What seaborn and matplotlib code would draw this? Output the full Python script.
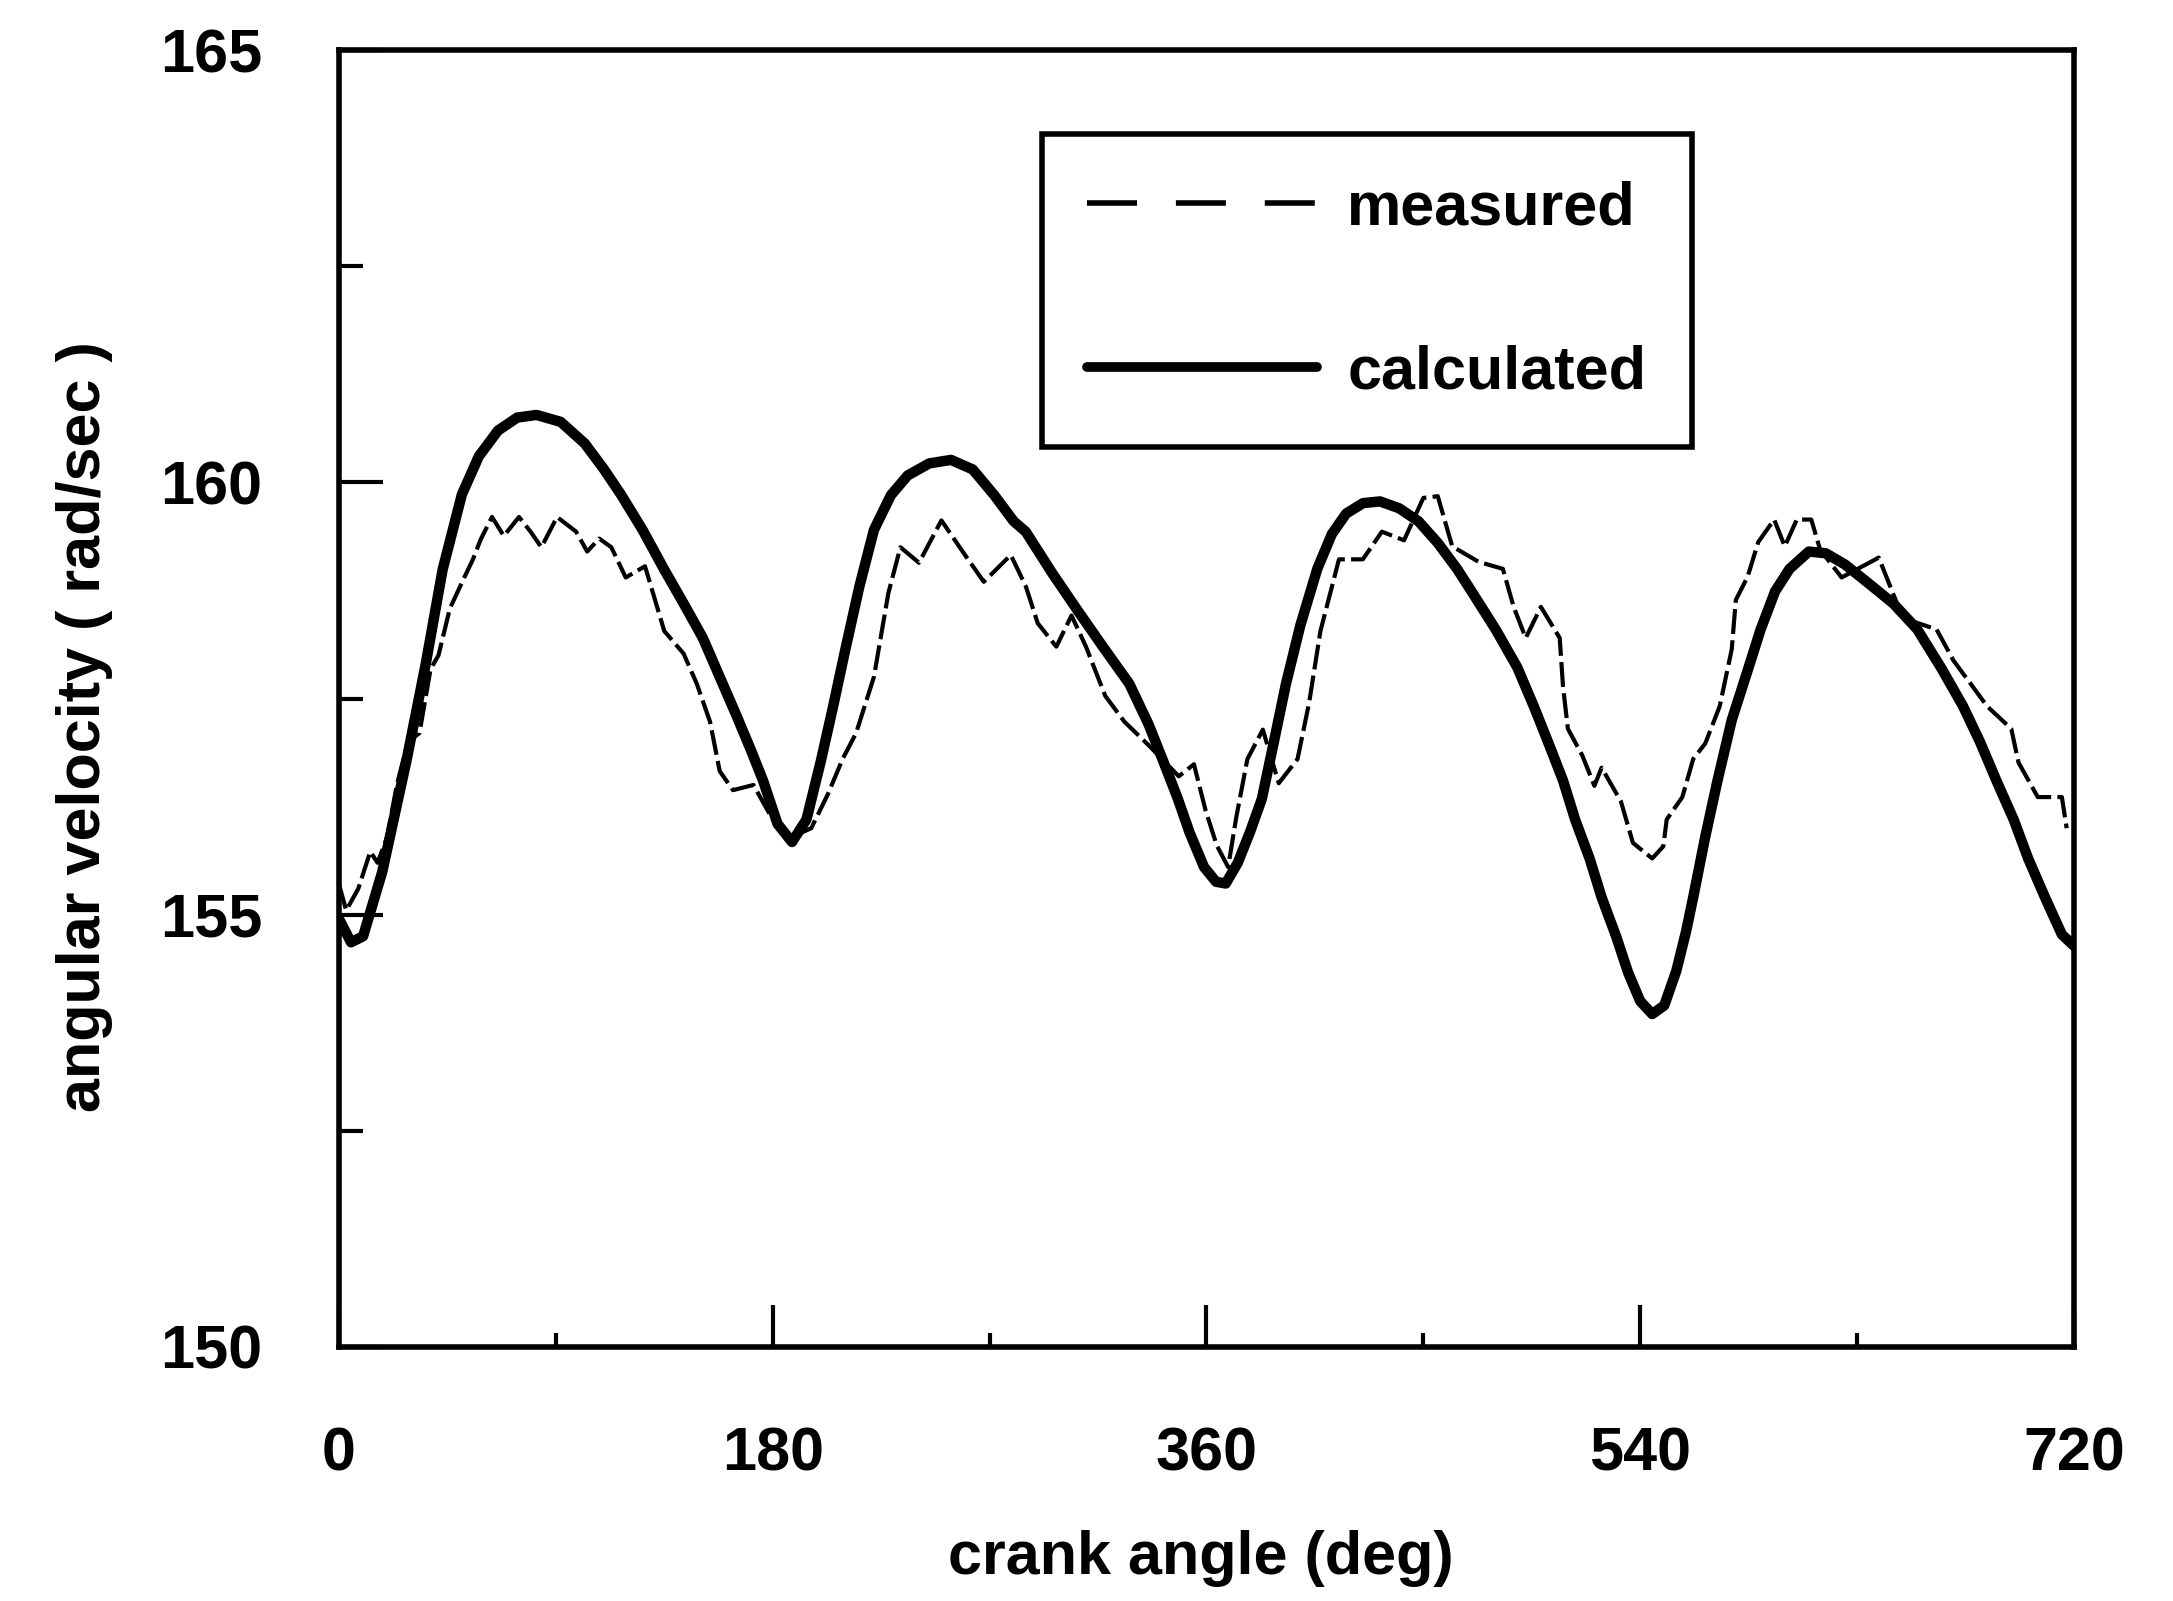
import matplotlib
matplotlib.use("Agg")
import matplotlib.pyplot as plt
from matplotlib.lines import Line2D
import pandas as pd
import seaborn as sns

# calculated angular velocity (solid, thick)
calc_angle = [0, 5, 10, 18, 28, 36, 43, 51, 58, 66, 74, 82, 92, 102, 110, 117,
              126, 135, 143, 151, 158, 165, 171, 176, 182, 188, 194, 200, 205,
              210, 216, 222, 229, 236, 245, 254, 263, 272, 280, 285, 296, 306,
              317, 328, 336, 342, 348, 353, 359, 364, 368, 373, 378, 383, 388,
              393, 399, 406, 412, 418, 425, 432, 440, 448, 456, 464, 470, 480,
              489, 496, 502, 508, 513, 519, 524, 530, 535, 540, 545, 550, 555,
              559, 562, 567, 572, 578, 585, 590, 596, 602, 610, 617, 625, 634,
              645, 655, 665, 674, 681, 688, 695, 701, 708, 715, 720]
calc_speed = [154.95, 154.68, 154.75, 155.5, 156.78, 157.9, 158.99, 159.86,
              160.3, 160.6, 160.75, 160.78, 160.7, 160.45, 160.15, 159.86,
              159.45, 158.99, 158.6, 158.2, 157.75, 157.3, 156.9, 156.55,
              156.05, 155.84, 156.1, 156.78, 157.4, 158.05, 158.8, 159.45,
              159.85, 160.08, 160.22, 160.26, 160.15, 159.85, 159.55, 159.43,
              158.95, 158.54, 158.1, 157.67, 157.2, 156.78, 156.35, 155.95,
              155.55, 155.38, 155.36, 155.6, 155.95, 156.34, 157.0, 157.67,
              158.35, 159.0, 159.4, 159.64, 159.76, 159.78, 159.7, 159.55,
              159.3, 159.0, 158.74, 158.3, 157.86, 157.4, 156.98, 156.55,
              156.1, 155.65, 155.2, 154.75, 154.33, 154.0, 153.85, 153.95,
              154.35, 154.8, 155.2, 155.9, 156.54, 157.25, 157.86, 158.3,
              158.74, 159.0, 159.2, 159.18, 159.05, 158.85, 158.6, 158.3,
              157.85, 157.41, 157.0, 156.54, 156.1, 155.65, 155.2, 154.77,
              154.64]

# measured angular velocity (dashed, thin, noisy)
meas_angle = [0, 3, 8, 13, 16, 20, 24, 28.6, 33.4, 38, 41.3, 46, 52, 55.6,
              58.8, 63.5, 68.4, 74.7, 79.5, 84, 90.5, 98.4, 103, 108, 113, 119,
              127, 135, 143, 148.5, 154, 158, 163.5, 172, 180, 188, 196, 203,
              209, 214.6, 222, 228, 233, 240.7, 250, 259.8, 267.6, 278.8, 285,
              290, 297.7, 304, 310, 318, 326, 336, 348.5, 354.8, 359.7, 364.3,
              369, 372.4, 377, 383.4, 390, 397.8, 402.6, 407.3, 415, 424.9,
              432.8, 442, 450, 456, 462, 473, 483, 487.5, 492.5, 498.8, 506.6,
              508, 510, 516, 521, 524, 532, 537, 545, 549.6, 551, 557.5, 562,
              567, 573, 578, 579.7, 584.6, 589, 595.6, 600, 605, 611, 614.7,
              623.6, 639, 649, 663, 670, 684, 694, 697, 705, 715, 717]
meas_speed = [155.35, 155.05, 155.3, 155.73, 155.6, 155.9, 156.5, 157.0,
              157.1, 157.84, 158.0, 158.54, 158.9, 159.11, 159.34, 159.6,
              159.38, 159.6, 159.43, 159.25, 159.6, 159.43, 159.2, 159.35,
              159.25, 158.9, 159.03, 158.28, 158.02, 157.67, 157.23, 156.66,
              156.44, 156.5, 156.1, 155.9, 156.0, 156.4, 156.8, 157.1, 157.75,
              158.72, 159.25, 159.07, 159.56, 159.16, 158.85, 159.16, 158.8,
              158.37, 158.1, 158.46, 158.1, 157.53, 157.23, 156.96, 156.6,
              156.74, 156.2, 155.8, 155.55, 156.13, 156.8, 157.14, 156.52,
              156.8, 157.45, 158.28, 159.11, 159.11, 159.43, 159.33, 159.82,
              159.84, 159.26, 159.08, 159.0, 158.56, 158.2, 158.56, 158.2,
              157.63, 157.15, 156.84, 156.49, 156.7, 156.31, 155.83, 155.65,
              155.79, 156.1, 156.36, 156.8, 156.98, 157.41, 158.07, 158.64,
              158.91, 159.31, 159.57, 159.26, 159.57, 159.57, 159.22, 158.9,
              159.13, 158.43, 158.3, 157.94, 157.41, 157.15, 156.76, 156.36,
              156.36, 156.0]

x_ticks = [0, 180, 360, 540, 720]
x_minor = [90, 270, 450, 630]
y_ticks = [150, 155, 160, 165]
y_minor = [152.5, 157.5, 162.5]

sns.set_style("white")
plt.rcParams["font.family"] = ["Liberation Sans", "DejaVu Sans"]
plt.rcParams["font.weight"] = "bold"
plt.rcParams["text.color"] = "black"
plt.rcParams["axes.labelcolor"] = "black"
plt.rcParams["xtick.color"] = "black"
plt.rcParams["ytick.color"] = "black"

fig = plt.figure(figsize=(21.73, 16.01), dpi=100)
ax = fig.add_axes([0.156, 0.1587, 0.7984, 0.810])

meas = pd.DataFrame({"angle": meas_angle, "speed": meas_speed})
calc = pd.DataFrame({"angle": calc_angle, "speed": calc_speed})

sns.lineplot(data=meas, x="angle", y="speed", ax=ax, color="black",
             linewidth=3, linestyle=(0, (6, 1.5)), estimator=None)
sns.lineplot(data=calc, x="angle", y="speed", ax=ax, color="black",
             linewidth=7.5, estimator=None)

ax.set_xlim(0, 720)
ax.set_ylim(150, 165)
ax.set_xticks(x_ticks)
ax.set_xticklabels([str(v) for v in x_ticks])
ax.set_xticks(x_minor, minor=True)
ax.set_yticks(y_ticks)
ax.set_yticklabels([str(v) for v in y_ticks])
ax.set_yticks(y_minor, minor=True)

ax.tick_params(axis="both", which="both", direction="in", color="black",
               labelcolor="black", width=3, bottom=True, left=True,
               top=False, right=False, labelsize=44)
ax.tick_params(axis="x", which="major", length=30, pad=57)
ax.tick_params(axis="x", which="minor", length=10)
ax.tick_params(axis="y", which="major", length=32, pad=55)
ax.tick_params(axis="y", which="minor", length=17)

for sp in ax.spines.values():
    sp.set_color("black")
    sp.set_linewidth(4)

ax.set_xlabel("crank angle (deg)", fontsize=44, fontweight="bold", color="black")
ax.set_ylabel("angular velocity ( rad/sec )", fontsize=44, fontweight="bold",
              color="black")
ax.xaxis.set_label_coords(0.497, -0.141)
ax.yaxis.set_label_coords(-0.13, 0.478)

handles = [Line2D([], [], color="black", linewidth=4, linestyle=(0, (9, 7))),
           Line2D([], [], color="black", linewidth=7)]
leg = ax.legend(handles=handles, labels=["measured", "calculated"],
                loc="upper left", bbox_to_anchor=(0.405, 0.935),
                borderaxespad=0, fontsize=44, frameon=True, fancybox=False,
                edgecolor="black", framealpha=1, handlelength=3.75,
                handletextpad=0.5, labelspacing=1.75, borderpad=0.75)
leg.get_frame().set_linewidth(4)
for t in leg.get_texts():
    t.set_color("black")

fig.savefig("out.png", dpi=100, facecolor="white")
